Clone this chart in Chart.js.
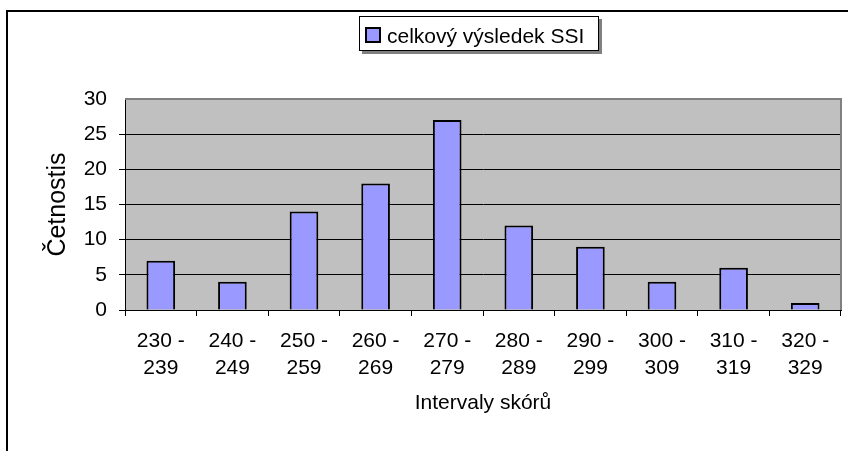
<!DOCTYPE html>
<html>
<head>
<meta charset="utf-8">
<script src="https://cdn.jsdelivr.net/npm/chart.js@4/dist/chart.umd.min.js"></script>
<style>
  html, body { margin: 0; padding: 0; background: #fff; }
  canvas { display: block; }
</style>
</head>
<body>
<canvas id="chart" width="848" height="451"></canvas>
<script>
// data
const intervals = [['230 -', '239'], ['240 -', '249'], ['250 -', '259'], ['260 -', '269'], ['270 -', '279'],
                   ['280 -', '289'], ['290 -', '299'], ['300 -', '309'], ['310 -', '319'], ['320 -', '329']];
const counts = [7, 4, 14, 18, 27, 12, 9, 4, 6, 1];
const seriesName = 'celkový výsledek SSI';
const yTitle = 'Četnostis';
const xTitle = 'Intervaly skórů';

const FONT = 'Liberation Sans, Arial, sans-serif';

// excel-like frame: outer border, grey plot area, boxed legend
const frame = {
    id: 'frame',
    beforeDraw(chart) {
        const ctx = chart.ctx;
        const a = chart.chartArea;
        ctx.save();
        ctx.fillStyle = '#fff';
        ctx.fillRect(0, 0, chart.width, chart.height);
        ctx.fillStyle = '#000';
        ctx.fillRect(6, 10, 2, chart.height - 10);
        ctx.fillRect(6, 10, chart.width - 6, 2);
        ctx.fillStyle = '#c0c0c0';
        ctx.fillRect(a.left, a.top, a.right - a.left, a.bottom - a.top);
        ctx.restore();
    },
    afterDraw(chart) {
        const ctx = chart.ctx;
        const a = chart.chartArea;
        ctx.save();
        // plot area border (top / right)
        ctx.strokeStyle = '#808080';
        ctx.lineWidth = 2;
        ctx.beginPath();
        ctx.moveTo(a.left, a.top);
        ctx.lineTo(a.right, a.top);
        ctx.lineTo(a.right, a.bottom);
        ctx.stroke();

        // legend
        const ds = chart.data.datasets[0];
        const lx = 359, ly = 16, lw = 240, lh = 35;
        ctx.fillStyle = '#808080';
        ctx.fillRect(lx + 3, ly + 3, lw, lh);
        ctx.fillStyle = '#fff';
        ctx.fillRect(lx, ly, lw, lh);
        ctx.strokeStyle = '#000';
        ctx.lineWidth = 1;
        ctx.strokeRect(lx + 0.5, ly + 0.5, lw - 1, lh - 1);
        ctx.fillStyle = ds.backgroundColor;
        ctx.fillRect(366, 28, 14, 14);
        ctx.lineWidth = 2;
        ctx.strokeRect(366, 28, 14, 14);
        ctx.fillStyle = '#000';
        ctx.font = '21px ' + FONT;
        ctx.textBaseline = 'alphabetic';
        ctx.fillText(ds.label, 387, 43);
        ctx.restore();
    }
};

new Chart(document.getElementById('chart'), {
    type: 'bar',
    data: {
        labels: intervals,
        datasets: [{
            label: seriesName,
            data: counts,
            backgroundColor: '#9999ff',
            borderColor: '#000',
            borderWidth: 2,
            categoryPercentage: 1,
            barPercentage: 0.4
        }]
    },
    options: {
        responsive: false,
        animation: false,
        devicePixelRatio: 1,
        layout: { padding: { top: 99, right: 7, bottom: 31, left: 0 } },
        plugins: {
            legend: { display: false },
            tooltip: { enabled: false }
        },
        scales: {
            x: {
                afterFit: s => { s.height = 110; },
                grid: { drawOnChartArea: false, drawTicks: true, tickLength: 6, color: '#000', offset: true },
                border: { color: '#000', width: 1 },
                ticks: { color: '#000', font: { family: FONT, size: 21, lineHeight: 1.27 }, padding: 12, maxRotation: 0, autoSkip: false },
                title: { display: true, text: xTitle, color: '#000', font: { family: FONT, size: 21 }, padding: { top: 0, bottom: 4 } }
            },
            y: {
                min: 0,
                max: 30,
                afterFit: s => { s.width = 125; },
                grid: {
                    color: ctx => (ctx.tick && ctx.tick.value === 30) ? 'rgba(0,0,0,0)' : '#000',
                    tickLength: 6
                },
                border: { color: '#000', width: 1 },
                ticks: { stepSize: 5, color: '#000', font: { family: FONT, size: 21 }, padding: 12 },
                title: { display: true, text: yTitle, color: '#000', font: { family: FONT, size: 25 }, padding: { top: 43, bottom: 0 } }
            }
        }
    },
    plugins: [frame]
});
</script>
</body>
</html>
